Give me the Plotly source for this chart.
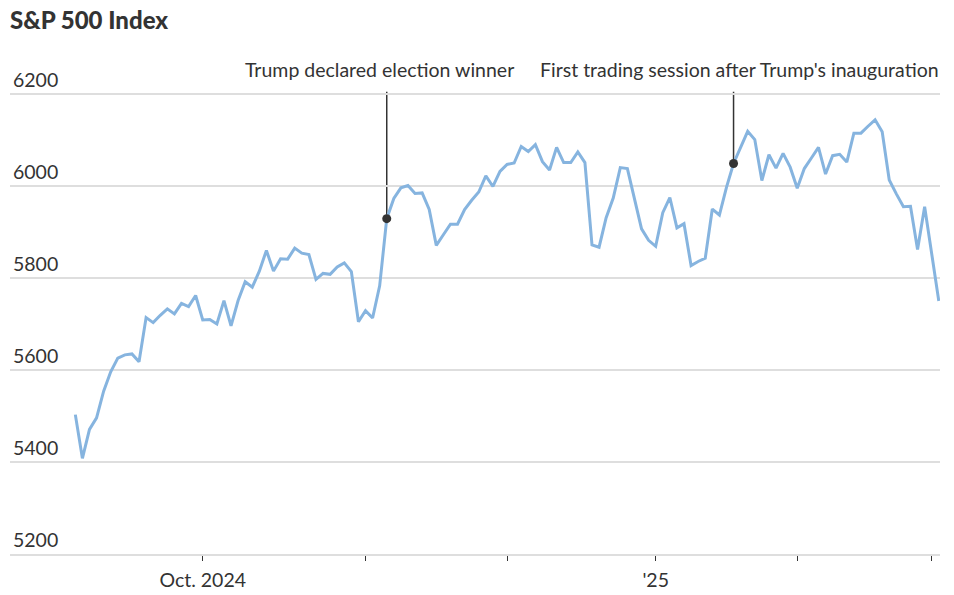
import plotly.graph_objects as go

# S&P 500 daily closes (trading days only)
dates = [
    "2024-09-05", "2024-09-06", "2024-09-09", "2024-09-10", "2024-09-11", "2024-09-12", "2024-09-13",
    "2024-09-16", "2024-09-17", "2024-09-18", "2024-09-19", "2024-09-20", "2024-09-23", "2024-09-24",
    "2024-09-25", "2024-09-26", "2024-09-27", "2024-09-30",
    "2024-10-01", "2024-10-02", "2024-10-03", "2024-10-04", "2024-10-07", "2024-10-08", "2024-10-09",
    "2024-10-10", "2024-10-11", "2024-10-14", "2024-10-15", "2024-10-16", "2024-10-17", "2024-10-18",
    "2024-10-21", "2024-10-22", "2024-10-23", "2024-10-24", "2024-10-25", "2024-10-28", "2024-10-29",
    "2024-10-30", "2024-10-31",
    "2024-11-01", "2024-11-04", "2024-11-05", "2024-11-06", "2024-11-07", "2024-11-08", "2024-11-11",
    "2024-11-12", "2024-11-13", "2024-11-14", "2024-11-15", "2024-11-18", "2024-11-19", "2024-11-20",
    "2024-11-21", "2024-11-22", "2024-11-25", "2024-11-26", "2024-11-27", "2024-11-29",
    "2024-12-02", "2024-12-03", "2024-12-04", "2024-12-05", "2024-12-06", "2024-12-09", "2024-12-10",
    "2024-12-11", "2024-12-12", "2024-12-13", "2024-12-16", "2024-12-17", "2024-12-18", "2024-12-19",
    "2024-12-20", "2024-12-23", "2024-12-24", "2024-12-26", "2024-12-27", "2024-12-30", "2024-12-31",
    "2025-01-02", "2025-01-03", "2025-01-06", "2025-01-07", "2025-01-08", "2025-01-10", "2025-01-13",
    "2025-01-14", "2025-01-15", "2025-01-16", "2025-01-17", "2025-01-21", "2025-01-22", "2025-01-23",
    "2025-01-24", "2025-01-27", "2025-01-28", "2025-01-29", "2025-01-30", "2025-01-31",
    "2025-02-03", "2025-02-04", "2025-02-05", "2025-02-06", "2025-02-07", "2025-02-10", "2025-02-11",
    "2025-02-12", "2025-02-13", "2025-02-14", "2025-02-18", "2025-02-19", "2025-02-20", "2025-02-21",
    "2025-02-24", "2025-02-25", "2025-02-26", "2025-02-27", "2025-02-28",
    "2025-03-03", "2025-03-04",
]
closes = [
    5503, 5408, 5471, 5496, 5554, 5596, 5626, 5633, 5635, 5618, 5714, 5703, 5719, 5733,
    5722, 5745, 5738, 5762,
    5709, 5710, 5700, 5751, 5696, 5751, 5792, 5780, 5815, 5860, 5815, 5842, 5841, 5865,
    5854, 5851, 5797, 5810, 5808, 5824, 5833, 5814, 5705,
    5729, 5713, 5783, 5929, 5973, 5996, 6001, 5984, 5985, 5949, 5871, 5894, 5917, 5917,
    5949, 5969, 5987, 6022, 5999, 6032,
    6047, 6050, 6086, 6075, 6090, 6053, 6035, 6084, 6051, 6051, 6074, 6051, 5872, 5867,
    5931, 5974, 6040, 6038, 5971, 5907, 5882,
    5869, 5942, 5975, 5909, 5918, 5827, 5836, 5843, 5950, 5937, 5997, 6049, 6086, 6119,
    6101, 6012, 6068, 6039, 6071, 6041,
    5995, 6038, 6061, 6084, 6026, 6066, 6069, 6052, 6115, 6115, 6130, 6144, 6118, 6013,
    5983, 5955, 5956, 5862, 5955,
    5850, 5750,
]

# month ticks sit on the first trading day of each month
tick_dates = ["2024-10-01", "2024-11-01", "2024-12-02", "2025-01-02", "2025-02-03", "2025-03-03"]
tick_text = ["Oct. 2024", "", "", "'25", "", ""]

y_ticks = [5200, 5400, 5600, 5800, 6000, 6200]

event_dates = ["2024-11-06", "2025-01-21"]
event_labels = ["Trump declared election winner", "First trading session after Trump's inauguration"]
event_label_shift = [-7, 6]

TEXT = "#333333"
LINE = "#86b4df"
GRID = "#dedede"

event_values = [closes[dates.index(d)] for d in event_dates]

fig = go.Figure()

fig.add_trace(go.Scatter(
    x=dates,
    y=closes,
    mode="lines",
    line=dict(color=LINE, width=3),
    hoverinfo="x+y",
    showlegend=False,
))

fig.add_trace(go.Scatter(
    x=event_dates,
    y=event_values,
    mode="markers",
    marker=dict(color=TEXT, size=9),
    hoverinfo="skip",
    showlegend=False,
))

# leader lines from each event up to its label
for d, v, label, shift in zip(event_dates, event_values, event_labels, event_label_shift):
    fig.add_shape(
        type="line", xref="x", yref="y",
        x0=d, x1=d, y0=v, y1=6205,
        line=dict(color=TEXT, width=1.5),
        layer="below",
    )
    fig.add_annotation(
        x=d, y=6253, xref="x", yref="y",
        text=label, showarrow=False,
        xanchor="center", yanchor="middle", xshift=shift,
        font=dict(family="Lato", size=19.5, color=TEXT),
    )

fig.update_layout(
    width=954,
    height=595,
    paper_bgcolor="white",
    plot_bgcolor="white",
    font=dict(family="Lato", size=19.5, color=TEXT),
    margin=dict(l=10, r=14, t=60, b=41),
    title=dict(
        text="S&P 500 Index",
        font=dict(family="Lato", size=24, color=TEXT, weight=900),
        xref="container", yref="container",
        x=10 / 954, xanchor="left",
        y=1 - 21 / 595, yanchor="middle",
    ),
    xaxis=dict(
        type="category",
        categoryorder="array",
        categoryarray=dates,
        range=[-9.23, 122.17],
        automargin=False,
        tickmode="array",
        tickvals=tick_dates,
        ticktext=tick_text,
        ticks="outside",
        ticklen=5,
        tickwidth=1.2,
        tickcolor=TEXT,
        ticklabelstandoff=3,
        showgrid=False,
        showline=True,
        linecolor=GRID,
        linewidth=1.5,
        tickfont=dict(family="Lato", size=19.5, color=TEXT),
    ),
    yaxis=dict(
        range=[5200, 6274],
        automargin=False,
        tickmode="array",
        tickvals=y_ticks,
        ticklabelposition="inside top",
        showgrid=True,
        gridcolor=GRID,
        gridwidth=1.5,
        zeroline=False,
        showline=False,
        tickfont=dict(family="Lato", size=19.5, color=TEXT),
    ),
)

# page body margin would push the chart 8px off the window origin
fig.write_html(
    "out.html",
    config={"displayModeBar": False},
    post_script="document.body.style.margin = '0';",
)
